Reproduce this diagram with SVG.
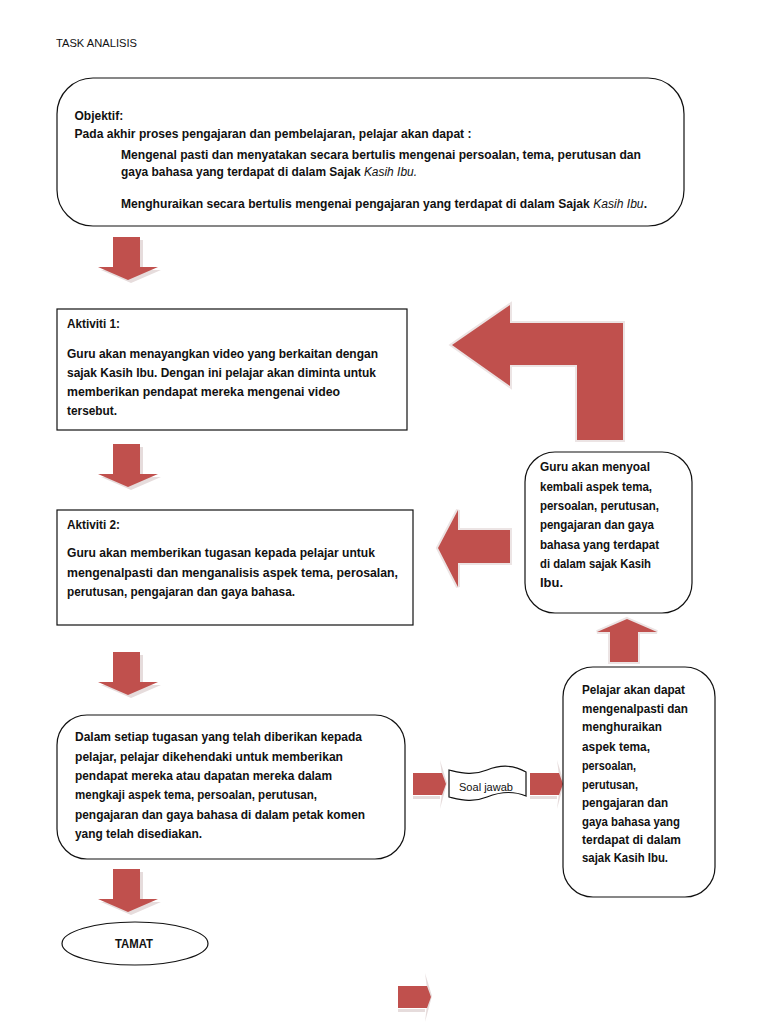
<svg xmlns="http://www.w3.org/2000/svg" xmlns:xlink="http://www.w3.org/1999/xlink" width="768" height="1024" viewBox="0 0 768 1024">
<style>
.t{font-family:"Liberation Sans",Arial,sans-serif;font-size:12.5px;font-weight:bold;fill:#111;}
.t1{font-family:"Liberation Sans",Arial,sans-serif;font-size:12px;font-weight:bold;fill:#111;}
.it{font-style:italic;font-weight:normal;}
.title{font-family:"Liberation Sans",Arial,sans-serif;font-size:10.5px;fill:#111;}
.box{fill:#fff;stroke:#111;stroke-width:1.2;}
.red{fill:#c0504d;}
.bev{fill:#e6dcdc;}
.halo{fill:none;stroke:#ece4e4;stroke-width:4;stroke-linejoin:miter;}
.sm{font-family:"Liberation Sans",Arial,sans-serif;font-size:10.5px;fill:#111;}
</style>
<defs>
<g id="downArrow">
<polygon class="bev" transform="translate(3,3)" points="15,0 42,0 42,30 60,30 30,43 0,30 15,30"/>
<polygon class="red" points="15,0 42,0 42,30 60,30 30,43 0,30 15,30"/>
</g>
<g id="rightArrow">
<polygon class="bev" points="27,-13 34,10 27,36 30,10"/>
<rect class="bev" x="0" y="23" width="27" height="3"/>
<polygon class="red" points="0,0 29,0 33,11 29,22 0,22"/>
</g>
</defs>

<text class="title" x="56" y="47" textLength="81" lengthAdjust="spacingAndGlyphs">TASK ANALISIS</text>

<g id="connectors">
<use xlink:href="#downArrow" transform="translate(98,237)"/>
<use xlink:href="#downArrow" transform="translate(98,444)"/>
<use xlink:href="#downArrow" transform="translate(98,652)"/>
<use xlink:href="#downArrow" transform="translate(98,869)"/>
<!-- L arrow -->
<polygon class="halo" points="452,345 510,305 510,323 623,323 623,440 577,440 577,365 510,365 510,386"/>
<polygon class="red" points="452,345 510,305 510,323 623,323 623,440 577,440 577,365 510,365 510,386"/>
<!-- left arrow -->
<polygon class="halo" points="438,548 458,510 458,530 510,530 510,563 458,563 458,587"/>
<polygon class="red" points="438,548 458,510 458,530 510,530 510,563 458,563 458,587"/>
<!-- up arrow -->
<polygon class="halo" points="627,619 657,632 638,632 638,662 610,662 610,632 597,632"/>
<polygon class="red" points="627,619 657,632 638,632 638,662 610,662 610,632 597,632"/>
<!-- right arrows -->
<use xlink:href="#rightArrow" transform="translate(413,773)"/>
<use xlink:href="#rightArrow" transform="translate(530,773)"/>
<use xlink:href="#rightArrow" transform="translate(398,986)"/>
</g>

<g id="objektif">
<rect class="box" x="57" y="78" width="627" height="148" rx="36" ry="36"/>
<text class="t1" x="74.5" y="120">Objektif:</text>
<text class="t1" x="74.5" y="138" textLength="397" lengthAdjust="spacingAndGlyphs">Pada akhir proses pengajaran dan pembelajaran, pelajar akan dapat :</text>
<text class="t1" x="121" y="159" textLength="520" lengthAdjust="spacingAndGlyphs">Mengenal pasti dan menyatakan secara bertulis mengenai persoalan, tema, perutusan dan</text>
<text class="t1" x="121" y="176" textLength="296" lengthAdjust="spacingAndGlyphs">gaya bahasa yang terdapat di dalam Sajak <tspan class="it">Kasih Ibu.</tspan></text>
<text class="t1" x="121" y="208" textLength="526" lengthAdjust="spacingAndGlyphs">Menghuraikan secara bertulis mengenai pengajaran yang terdapat di dalam Sajak <tspan class="it">Kasih Ibu</tspan>.</text>
</g>

<g id="aktiviti1">
<rect class="box" x="57" y="309" width="350" height="121"/>
<text class="t" x="67" y="328" textLength="53" lengthAdjust="spacingAndGlyphs">Aktiviti 1:</text>
<text class="t" x="67" y="358" textLength="311" lengthAdjust="spacingAndGlyphs">Guru akan menayangkan video yang berkaitan dengan</text>
<text class="t" x="67" y="377" textLength="309" lengthAdjust="spacingAndGlyphs">sajak Kasih Ibu. Dengan ini pelajar akan diminta untuk</text>
<text class="t" x="67" y="396" textLength="273" lengthAdjust="spacingAndGlyphs">memberikan pendapat mereka mengenai video</text>
<text class="t" x="67" y="415" textLength="50" lengthAdjust="spacingAndGlyphs">tersebut.</text>
</g>

<g id="aktiviti2">
<rect class="box" x="57" y="510" width="356" height="115"/>
<text class="t" x="67" y="529" textLength="53" lengthAdjust="spacingAndGlyphs">Aktiviti 2:</text>
<text class="t" x="67" y="557" textLength="308" lengthAdjust="spacingAndGlyphs">Guru akan memberikan tugasan kepada pelajar untuk</text>
<text class="t" x="67" y="577" textLength="331" lengthAdjust="spacingAndGlyphs">mengenalpasti dan menganalisis aspek tema, perosalan,</text>
<text class="t" x="67" y="596" textLength="228" lengthAdjust="spacingAndGlyphs">perutusan, pengajaran dan gaya bahasa.</text>
</g>

<g id="tugasan">
<rect class="box" x="57" y="715" width="348" height="144" rx="30" ry="30"/>
<text class="t" x="75" y="741" textLength="287" lengthAdjust="spacingAndGlyphs">Dalam setiap tugasan yang telah diberikan kepada</text>
<text class="t" x="75" y="761" textLength="268" lengthAdjust="spacingAndGlyphs">pelajar, pelajar dikehendaki untuk memberikan</text>
<text class="t" x="75" y="780" textLength="257" lengthAdjust="spacingAndGlyphs">pendapat mereka atau dapatan mereka dalam</text>
<text class="t" x="75" y="799" textLength="242" lengthAdjust="spacingAndGlyphs">mengkaji aspek tema, persoalan, perutusan,</text>
<text class="t" x="75" y="819" textLength="290" lengthAdjust="spacingAndGlyphs">pengajaran dan gaya bahasa di dalam petak komen</text>
<text class="t" x="75" y="838" textLength="127" lengthAdjust="spacingAndGlyphs">yang telah disediakan.</text>
</g>

<g id="tamat">
<ellipse class="box" cx="135" cy="943.5" rx="73" ry="21.5"/>
<text class="t" x="134" y="948" text-anchor="middle" textLength="38" lengthAdjust="spacingAndGlyphs">TAMAT</text>
</g>

<g id="soal-jawab">
<path class="box" stroke-width="1" d="M449,770 C462,773 472,776 487,770 C502,764 514,765 526,772 L526,796 C514,791 502,791 487,797 C472,803 462,800 449,797 Z"/>
<text class="sm" x="459" y="791" textLength="54" lengthAdjust="spacingAndGlyphs">Soal jawab</text>
</g>

<g id="menyoal">
<rect class="box" x="525" y="452" width="167" height="161" rx="30" ry="30"/>
<text class="t" x="540" y="471" textLength="110" lengthAdjust="spacingAndGlyphs">Guru akan menyoal</text>
<text class="t" x="540" y="491" textLength="112" lengthAdjust="spacingAndGlyphs">kembali aspek tema,</text>
<text class="t" x="540" y="510" textLength="119" lengthAdjust="spacingAndGlyphs">persoalan, perutusan,</text>
<text class="t" x="540" y="529" textLength="114" lengthAdjust="spacingAndGlyphs">pengajaran dan gaya</text>
<text class="t" x="540" y="549" textLength="119" lengthAdjust="spacingAndGlyphs">bahasa yang terdapat</text>
<text class="t" x="540" y="568" textLength="111" lengthAdjust="spacingAndGlyphs">di dalam sajak Kasih</text>
<text class="t" x="540" y="587" textLength="23" lengthAdjust="spacingAndGlyphs">Ibu.</text>
</g>

<g id="pelajar">
<rect class="box" x="563" y="667" width="152" height="230" rx="30" ry="30"/>
<text class="t" x="582" y="694" textLength="103" lengthAdjust="spacingAndGlyphs">Pelajar akan dapat</text>
<text class="t" x="582" y="713" textLength="106" lengthAdjust="spacingAndGlyphs">mengenalpasti dan</text>
<text class="t" x="582" y="731" textLength="80" lengthAdjust="spacingAndGlyphs">menghuraikan</text>
<text class="t" x="582" y="751" textLength="68" lengthAdjust="spacingAndGlyphs">aspek tema,</text>
<text class="t" x="582" y="770" textLength="54" lengthAdjust="spacingAndGlyphs">persoalan,</text>
<text class="t" x="582" y="789" textLength="56" lengthAdjust="spacingAndGlyphs">perutusan,</text>
<text class="t" x="582" y="807" textLength="86" lengthAdjust="spacingAndGlyphs">pengajaran dan</text>
<text class="t" x="582" y="826" textLength="98" lengthAdjust="spacingAndGlyphs">gaya bahasa yang</text>
<text class="t" x="582" y="844" textLength="99" lengthAdjust="spacingAndGlyphs">terdapat di dalam</text>
<text class="t" x="582" y="862" textLength="86" lengthAdjust="spacingAndGlyphs">sajak Kasih Ibu.</text>
</g>
</svg>
